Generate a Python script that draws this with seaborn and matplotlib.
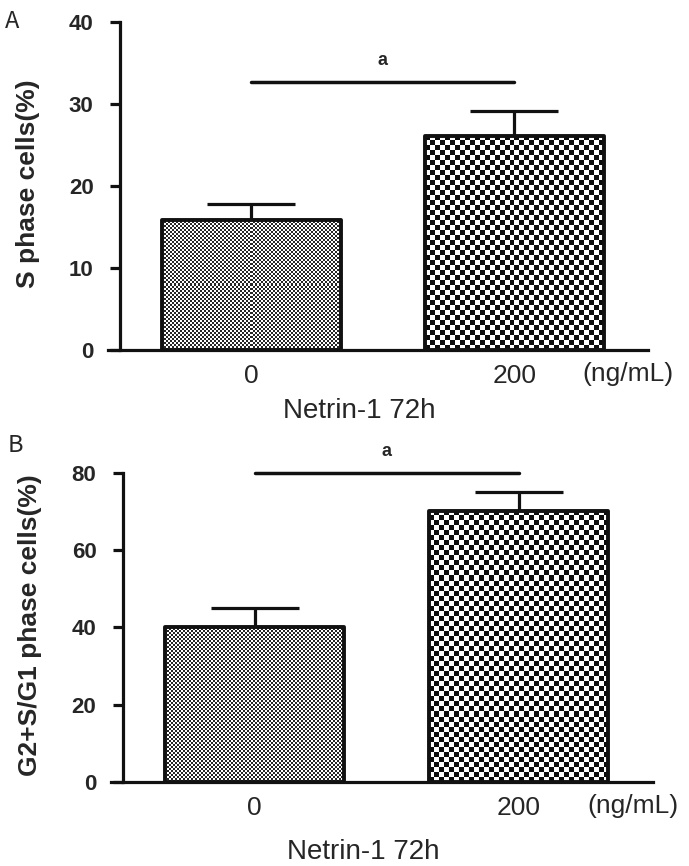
import numpy as np
import pandas as pd
import seaborn as sns
import matplotlib
matplotlib.use("Agg")
import matplotlib.pyplot as plt

# ----------------------------------------
# data
# ----------------------------------------
doses = ['0', '200']
s_phase = [15.9, 26.1]
s_phase_err = [1.9, 3.0]
g2s_g1 = [40.2, 70.2]
g2s_g1_err = [4.8, 4.9]
sig_a = 32.7
sig_b = 80.0

sns.set_theme(style="ticks")
plt.rcParams['font.family'] = ['Liberation Sans', 'DejaVu Sans']

fig = plt.figure(figsize=(6.89, 8.66), dpi=100)
ax_a = fig.add_axes([0.157, 0.5958, 0.784, 0.3788])
ax_b = fig.add_axes([0.161, 0.097, 0.787, 0.357])

LW = 2.3
INK = '#111111'


def checker_fill(ax, patch, cell_px, dark=0.08):
    # fill a bar with a black/white checkerboard, clipped to the bar
    fig.canvas.draw()
    bb = patch.get_window_extent()
    nx = max(int(round(bb.width / cell_px)), 1)
    ny = max(int(round(bb.height / cell_px)), 1)
    ii, jj = np.indices((ny, nx))
    arr = np.where((ii + jj) % 2 == 0, dark, 1.0)
    x0, y0 = patch.get_x(), patch.get_y()
    im = ax.imshow(arr, extent=[x0, x0 + patch.get_width(), y0, y0 + patch.get_height()],
                   cmap='gray', vmin=0, vmax=1, interpolation='nearest',
                   aspect='auto', zorder=patch.get_zorder() - 0.1, origin='lower')
    im.set_clip_path(patch)


def draw_panel(ax, values, errs, ymax, yticks, ylabel, sig_y, letter,
               tick_y, xlab_y, ylab_x, letter_xy):
    df = pd.DataFrame({'dose': doses, 'value': values})
    sns.barplot(data=df, x='dose', y='value', ax=ax, width=0.68,
                color='none', edgecolor=INK, linewidth=2.8, errorbar=None)
    for p in ax.patches:
        p.set_facecolor('none')
        p.set_zorder(3)
        p.set_joinstyle('round')
    ax.set_xlim(-0.545, 1.51)
    ax.set_ylim(0, ymax)
    checker_fill(ax, ax.patches[0], 2.0, dark=0.15)
    checker_fill(ax, ax.patches[1], 5.0, dark=0.05)
    ax.set_xlim(-0.545, 1.51)
    ax.set_ylim(0, ymax)

    ax.errorbar([0, 1], values, yerr=[[0, 0], errs], fmt='none', ecolor=INK,
                elinewidth=2.3, capsize=32, capthick=2.3, zorder=2)

    ax.plot([0, 1], [sig_y, sig_y], color=INK, lw=2.5, clip_on=False,
            solid_capstyle='round')
    ax.text(0.5, sig_y + ymax * 0.04, 'a', ha='center', va='bottom',
            fontsize=13, fontweight='bold')

    sns.despine(ax=ax)
    ax.spines['left'].set_position(('data', -0.5))
    for side in ['left', 'bottom']:
        ax.spines[side].set_linewidth(LW)
        ax.spines[side].set_color(INK)
    ax.set_yticks(yticks)
    ax.tick_params(axis='y', length=7, width=LW, pad=12, labelsize=16, color=INK)
    ax.tick_params(axis='x', length=0, pad=10, labelsize=19)
    for t in ax.get_yticklabels():
        t.set_fontweight('bold')
    ax.set_ylabel('')
    ax.set_xlabel('')
    ax.text(ylab_x, 0.506, ylabel, transform=ax.transAxes, rotation=90,
            ha='center', va='center', fontsize=19, fontweight='bold')
    ax.text(0.465, xlab_y, 'Netrin-1 72h', transform=ax.transAxes,
            ha='center', va='center', fontsize=20)
    ax.text(0.963, tick_y, '(ng/mL)', transform=ax.transAxes, ha='center',
            va='center', fontsize=19)
    ax.text(letter_xy[0], letter_xy[1], letter, transform=ax.transAxes,
            ha='center', va='center', fontsize=17,
            family=['Noto Sans CJK SC', 'DejaVu Sans'])


draw_panel(ax_a, s_phase, s_phase_err, 40, [0, 10, 20, 30, 40],
           'S phase cells(%)', sig_a, 'A',
           tick_y=-0.073, xlab_y=-0.186, ylab_x=-0.148, letter_xy=(-0.178, 1.0))
draw_panel(ax_b, g2s_g1, g2s_g1_err, 80, [0, 20, 40, 60, 80],
           'G2+S/G1 phase cells(%)', sig_b, 'B',
           tick_y=-0.078, xlab_y=-0.227, ylab_x=-0.15, letter_xy=(-0.177, 1.087))

fig.savefig('out.png', dpi=100)
